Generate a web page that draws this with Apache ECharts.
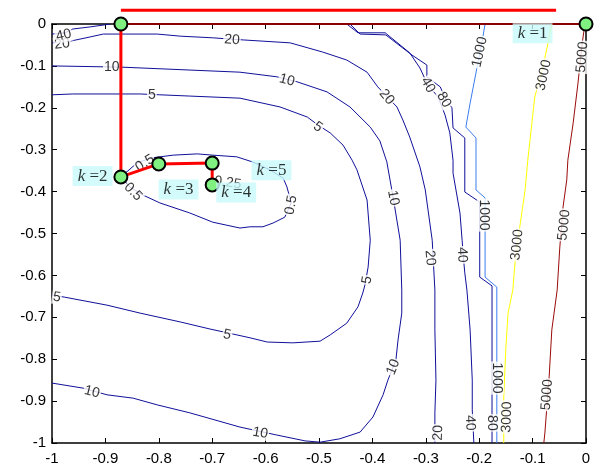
<!DOCTYPE html>
<html>
<head>
<meta charset="utf-8">
<script src="https://cdn.jsdelivr.net/npm/echarts@6/dist/echarts.min.js"></script>
<style>
  html, body { margin: 0; padding: 0; background: #ffffff; }
  #chart { width: 595px; height: 471px; }
</style>
</head>
<body>
<div id="chart"></div>
<script>
// ---- contour polylines, in data coordinates [x, y] ----
const c05 = [[-0.871,-0.365],[-0.841,-0.332],[-0.816,-0.320],[-0.773,-0.313],[-0.728,-0.310],[-0.699,-0.313],
  [-0.654,-0.317],[-0.625,-0.329],[-0.592,-0.348],[-0.567,-0.368],[-0.560,-0.389],[-0.552,-0.427],[-0.564,-0.461],
  [-0.586,-0.475],[-0.605,-0.484],[-0.629,-0.484],[-0.648,-0.487],[-0.699,-0.473],[-0.742,-0.451],[-0.798,-0.427],
  [-0.830,-0.408],[-0.854,-0.389],[-0.871,-0.365]];
const c5 = [[-1,-0.169],[-0.961,-0.167],[-0.835,-0.167],[-0.798,-0.169],[-0.742,-0.172],[-0.648,-0.177],[-0.573,-0.198],
  [-0.522,-0.222],[-0.502,-0.241],[-0.479,-0.260],[-0.455,-0.289],[-0.438,-0.325],[-0.429,-0.348],[-0.410,-0.420],
  [-0.404,-0.516],[-0.408,-0.580],[-0.414,-0.623],[-0.418,-0.642],[-0.427,-0.675],[-0.448,-0.714],[-0.479,-0.742],
  [-0.498,-0.757],[-0.549,-0.761],[-0.597,-0.759],[-0.629,-0.749],[-0.661,-0.740],[-0.704,-0.728],[-0.760,-0.711],
  [-0.835,-0.690],[-0.897,-0.671],[-0.976,-0.652],[-1,-0.647]];
const c10 = [[-1,-0.100],[-0.869,-0.103],[-0.648,-0.115],[-0.579,-0.126],[-0.541,-0.138],[-0.485,-0.162],[-0.442,-0.198],
  [-0.404,-0.246],[-0.386,-0.279],[-0.373,-0.329],[-0.361,-0.415],[-0.348,-0.516],[-0.345,-0.635],[-0.345,-0.690],
  [-0.352,-0.754],[-0.356,-0.802],[-0.371,-0.850],[-0.380,-0.885],[-0.399,-0.938],[-0.423,-0.974],[-0.461,-0.990],
  [-0.498,-0.998],[-0.526,-0.995],[-0.579,-0.981],[-0.648,-0.962],[-0.742,-0.928],[-0.803,-0.909],[-0.848,-0.893],
  [-0.897,-0.885],[-0.942,-0.869],[-1,-0.857]];
const c20 = [[-1,-0.045],[-0.966,-0.041],[-0.929,-0.031],[-0.904,-0.024],[-0.873,-0.024],[-0.803,-0.024],[-0.760,-0.029],
  [-0.699,-0.033],[-0.642,-0.038],[-0.554,-0.045],[-0.493,-0.067],[-0.448,-0.086],[-0.410,-0.115],[-0.390,-0.150],
  [-0.354,-0.198],[-0.343,-0.229],[-0.330,-0.270],[-0.311,-0.341],[-0.301,-0.396],[-0.288,-0.516],[-0.283,-0.635],
  [-0.283,-0.730],[-0.281,-0.850],[-0.283,-0.928],[-0.283,-1]];
const c40Left = [[-1,-0.024],[-0.976,-0.021],[-0.961,-0.012],[-0.929,-0.007],[-0.901,-0.002],[-0.891,0]];
const c40Right = [[-0.448,0],[-0.427,-0.021],[-0.376,-0.021],[-0.330,-0.069],[-0.311,-0.105],[-0.296,-0.146],
  [-0.277,-0.174],[-0.264,-0.217],[-0.255,-0.260],[-0.249,-0.325],[-0.249,-0.356],[-0.236,-0.451],[-0.232,-0.516],
  [-0.230,-0.551],[-0.227,-0.594],[-0.223,-0.635],[-0.217,-0.730],[-0.213,-0.850],[-0.213,-0.921],[-0.210,-1]];
const c80 = [[-0.442,0],[-0.423,-0.024],[-0.375,-0.026],[-0.326,-0.074],[-0.298,-0.098],[-0.298,-0.126],[-0.273,-0.150],
  [-0.262,-0.181],[-0.251,-0.200],[-0.249,-0.248],[-0.227,-0.272],[-0.227,-0.401],[-0.199,-0.425],[-0.199,-0.604],
  [-0.176,-0.625],[-0.176,-1]];
const c1000 = [[-0.189,0],[-0.195,-0.045],[-0.204,-0.103],[-0.217,-0.189],[-0.225,-0.246],[-0.206,-0.272],[-0.206,-0.396],
  [-0.189,-0.415],[-0.189,-0.604],[-0.167,-0.628],[-0.167,-1]];
const c3000 = [[-0.064,0],[-0.071,-0.045],[-0.082,-0.110],[-0.096,-0.174],[-0.109,-0.325],[-0.114,-0.396],[-0.124,-0.484],
  [-0.133,-0.570],[-0.137,-0.635],[-0.146,-0.690],[-0.150,-0.771],[-0.154,-0.890],[-0.154,-1]];
const c5000 = [[-0.002,0],[-0.007,-0.045],[-0.015,-0.141],[-0.024,-0.236],[-0.034,-0.325],[-0.036,-0.372],[-0.043,-0.437],
  [-0.049,-0.532],[-0.054,-0.635],[-0.064,-0.730],[-0.069,-0.842],[-0.077,-0.976],[-0.079,-1]];

// ---- inline contour level labels [x, y, text] ----
const contourLabelSpots = [
  [-0.981,-0.048,'20'],[-0.978,-0.027,'40'],[-0.663,-0.038,'20'],[-0.888,-0.103,'10'],[-0.560,-0.134,'10'],
  [-0.813,-0.169,'5'],[-0.502,-0.246,'5'],[-0.373,-0.174,'20'],[-0.296,-0.146,'40'],[-0.266,-0.181,'80'],
  [-0.199,-0.067,'1000'],[-0.079,-0.122,'3000'],[-0.007,-0.079,'5000'],[-0.826,-0.332,'0.5'],[-0.848,-0.401,'0.5'],
  [-0.552,-0.432,'0.5'],[-0.671,-0.379,'0.25'],[-0.361,-0.415,'10'],[-0.410,-0.611,'5'],[-0.292,-0.558,'20'],
  [-0.232,-0.551,'40'],[-0.191,-0.456,'1000'],[-0.129,-0.527,'3000'],[-0.041,-0.480,'5000'],[-0.991,-0.652,'5'],
  [-0.672,-0.742,'5'],[-0.925,-0.878,'10'],[-0.610,-0.976,'10'],[-0.361,-0.819,'10'],[-0.277,-0.976,'20'],
  [-0.217,-0.952,'40'],[-0.176,-0.952,'80'],[-0.167,-0.845,'1000'],[-0.148,-0.938,'3000'],[-0.073,-0.885,'5000']
];
// text direction of each label, following its contour (degrees, counter-clockwise)
const contourLabelTilt = [6,13,-4,0,-14,0,-35,-50,-60,-60,78,78,85,33,-45,80,-8,-80,80,-85,
  -88,-90,84,84,-8,-12,-14,-10,68,88,-88,-90,-90,88,86];

// ---- iterate path ----
const startPoint = [-0.871, 0];
const iterates = [[0, 0], [-0.871, -0.365], [-0.800, -0.334], [-0.700, -0.384], [-0.700, -0.332]]; // k = 1..5
const descentPath = [[-0.871, 0], [-0.871, -0.365], [-0.800, -0.334], [-0.700, -0.332], [-0.700, -0.384]];
const topStep = [[-0.871, 0.033], [-0.056, 0.033]];
const edgeStep = [[-0.871, 0], [0, 0]];
const stepNames = ['1', '2', '3', '4', '5'];
const stepLabelSpots = [[-0.100, -0.022], [-0.924, -0.363], [-0.763, -0.395], [-0.655, -0.402], [-0.589, -0.349]];

const DARK = '#10109a';
const contourSet = [
  [c05, DARK], [c5, DARK], [c10, DARK], [c20, DARK], [c40Left, DARK], [c40Right, DARK], [c80, DARK],
  [c1000, '#3a7cf0'], [c3000, '#ffff00'], [c5000, '#9a0a0a']
];

const sansFont = '"Liberation Sans", Arial, Helvetica, sans-serif';
const serifFont = '"Liberation Serif", "Times New Roman", serif';

const chart = echarts.init(document.getElementById('chart'), null, { renderer: 'canvas' });

const axisCommon = {
  type: 'value', min: -1, max: 0, interval: 0.1,
  axisLine: { show: true, onZero: false, lineStyle: { color: '#000', width: 1.5 } },
  axisTick: { show: true, inside: true, length: 5, lineStyle: { color: '#000', width: 1 } },
  splitLine: { show: false }
};
const labelCommon = { color: '#000', fontSize: 15, fontFamily: sansFont };

const series = [];
contourSet.forEach(([pts, color]) => {
  series.push({
    type: 'line', data: pts, symbol: 'none', showSymbol: false, silent: true,
    lineStyle: { color: color, width: 1 }, z: 2, animation: false, clip: true
  });
});

series.push({
  type: 'scatter', symbolSize: 0, silent: true, z: 3, clip: false, animation: false,
  data: contourLabelSpots.map((s, i) => ({
    value: [s[0], s[1]],
    label: {
      show: true, position: 'inside', formatter: s[2], rotate: contourLabelTilt[i],
      color: '#000', fontSize: 14, fontFamily: sansFont,
      backgroundColor: '#ffffff', padding: [0, 1]
    }
  }))
});

series.push({
  type: 'line', data: topStep, symbol: 'none', clip: false, silent: true, z: 5, animation: false,
  lineStyle: { color: '#ff0000', width: 3 }
});
series.push({
  type: 'line', data: edgeStep, symbol: 'none', clip: false, silent: true, z: 5, animation: false,
  lineStyle: { color: '#8a0000', width: 2 }
});
series.push({
  type: 'line', data: descentPath, symbol: 'none', clip: false, silent: true, z: 5, animation: false,
  lineStyle: { color: '#ff0000', width: 3 }
});
series.push({
  type: 'scatter', data: [startPoint].concat(iterates), symbol: 'circle', symbolSize: 13,
  clip: false, silent: true, z: 6, animation: false,
  itemStyle: { color: '#80f080', borderColor: '#000', borderWidth: 2, opacity: 1 }
});
series.push({
  type: 'scatter', symbolSize: 0, silent: true, z: 7, clip: false, animation: false,
  data: stepLabelSpots.map((p, i) => ({
    value: p,
    label: {
      show: true, position: 'inside',
      formatter: '{k|k}{n| =' + stepNames[i] + '}',
      backgroundColor: '#c8fafa', padding: [2, 5, 1, 5],
      rich: {
        k: { fontFamily: serifFont, fontStyle: 'italic', fontSize: 17, color: '#000' },
        n: { fontFamily: serifFont, fontSize: 17, color: '#000' }
      }
    }
  }))
});

chart.setOption({
  animation: false,
  backgroundColor: '#ffffff',
  grid: { left: 52, right: 9, top: 24, bottom: 28, containLabel: false },
  xAxis: [
    Object.assign({}, axisCommon, { position: 'bottom', axisLabel: Object.assign({ margin: 8 }, labelCommon) }),
    Object.assign({}, axisCommon, { position: 'top', axisLabel: { show: false } })
  ],
  yAxis: [
    Object.assign({}, axisCommon, { position: 'left', axisLabel: Object.assign({ margin: 6 }, labelCommon) }),
    Object.assign({}, axisCommon, { position: 'right', axisLabel: { show: false } })
  ],
  series: series
});
</script>
</body>
</html>
